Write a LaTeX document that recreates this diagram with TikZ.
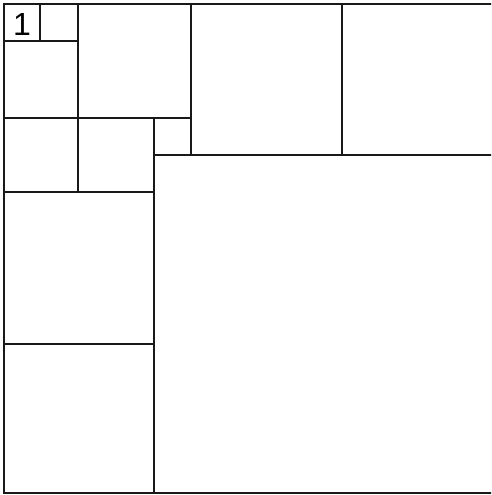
\documentclass[tikz,border=0pt]{standalone}
\usepackage{fontspec}
\setmainfont{Liberation Sans}
\begin{document}
\begin{tikzpicture}[x=1pt,y=-1pt,
  edge/.style={line width=2.2pt, line cap=rect, black!90},
  lbl/.style={font=\fontsize{32}{32}\selectfont, inner sep=0pt}]
\useasboundingbox (0,0) rectangle (491,495);
\fill[white] (0,0) rectangle (491,495);
\begin{scope}
\clip (0,0) rectangle (491,495);
% outer frame (right edge cut off)
\draw[edge] (495,4) -- (4,4) -- (4,493) -- (495,493);
% inner divisions
\draw[edge] (40,4) -- (40,41);
\draw[edge] (4,41) -- (78,41);
\draw[edge] (78,4) -- (78,192);
\draw[edge] (4,118) -- (191,118);
\draw[edge] (191,4) -- (191,155);
\draw[edge] (342,4) -- (342,155);
\draw[edge] (154,155) -- (495,155);
\draw[edge] (154,118) -- (154,493);
\draw[edge] (4,192) -- (154,192);
\draw[edge] (4,344) -- (154,344);
\end{scope}
\node[lbl] (one) at (22,24.5) {1};
\end{tikzpicture}
\end{document}
